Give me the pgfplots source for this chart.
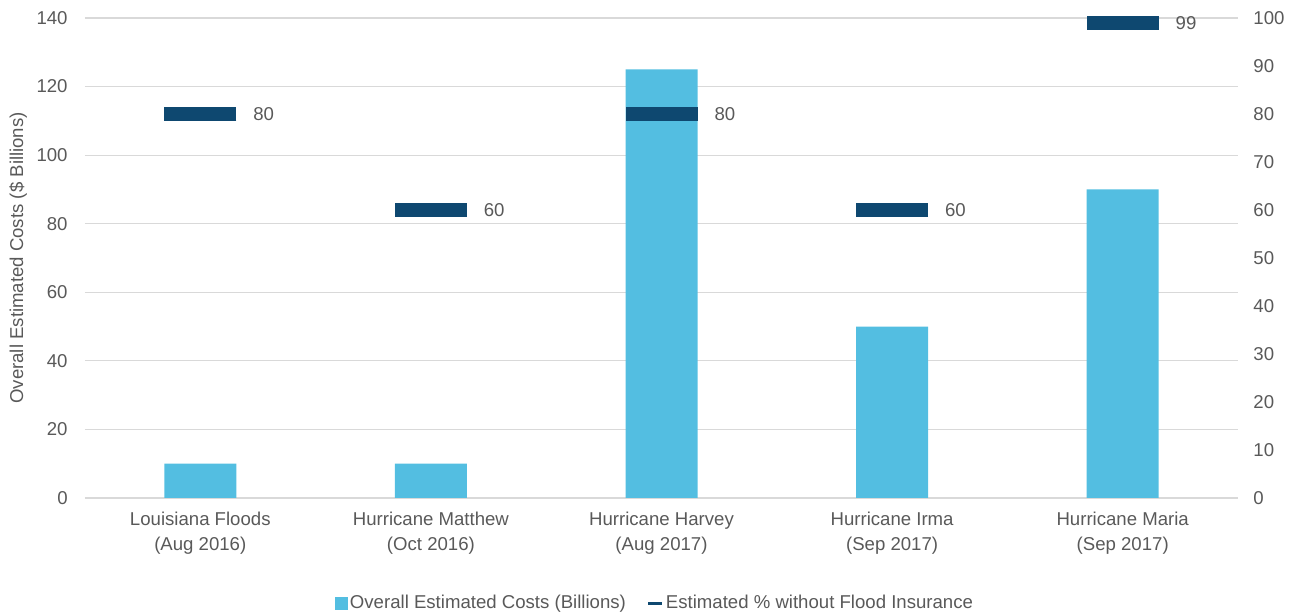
\documentclass[border=0pt]{standalone}
\usepackage{pgfplots}
\pgfplotsset{compat=1.18}
\usepackage{fontspec}
\setmainfont{Liberation Sans}
\definecolor{barc}{RGB}{83,190,225}
\definecolor{navy}{RGB}{14,72,112}
\definecolor{txt}{RGB}{89,89,89}
\definecolor{gridc}{RGB}{217,217,217}
\newcommand{\fs}{\fontsize{9.3}{12.5}\selectfont}
\begin{document}
\begin{tikzpicture}
\path[use as bounding box] (-42.5pt,-57.5pt) rectangle (604pt,249pt);
\begin{axis}[
 at={(0,0)}, anchor=south west,
 scale only axis, width=576.5pt, height=240pt,
 xmin=-0.5, xmax=4.5, ymin=0, ymax=140,
 xtick={0,1,2,3,4},
 xticklabels={{Louisiana Floods\\(Aug 2016)},{Hurricane Matthew\\(Oct 2016)},{Hurricane Harvey\\(Aug 2017)},{Hurricane Irma\\(Sep 2017)},{Hurricane Maria\\(Sep 2017)}},
 ytick={0,20,...,140},
 ymajorgrids, grid style={gridc, line width=0.6pt},
 axis line style={draw=none},
 major tick length=0pt,
 tick label style={font=\fs, text=txt},
 /pgf/number format/assume math mode=true,
 xticklabel style={align=center, anchor=north, inner sep=0pt, yshift=-7pt},
 yticklabel style={anchor=east, inner sep=0pt, xshift=-8.5pt},
 ylabel={Overall Estimated Costs (\$ Billions)},
 ylabel style={at={(axis description cs:-0.058,0.5)}, anchor=center, font=\fs, text=txt},
 clip=false,
]
\addplot[ybar, bar width=36pt, fill=barc, draw=none] coordinates {(0,10)(1,10)(2,125)(3,50)(4,90)};
\end{axis}
\begin{axis}[
 at={(0,0)}, anchor=south west,
 scale only axis, width=576.5pt, height=240pt,
 xmin=-0.5, xmax=4.5, ymin=0, ymax=100,
 axis y line*=right, axis x line=none,
 ytick={0,10,...,100},
 axis line style={draw=none},
 major tick length=0pt,
 tick label style={font=\fs, text=txt},
 /pgf/number format/assume math mode=true,
 yticklabel style={anchor=west, inner sep=0pt, xshift=7.5pt},
 legend style={at={(axis description cs:0.494,-0.219)}, anchor=center, draw=none, fill=none, legend columns=2, font=\fs, text=txt, nodes={inner sep=0.5pt}, /tikz/every odd column/.append style={column sep=0.5pt}, /tikz/every even column/.append style={column sep=10pt}},
 clip=false,
]
\addlegendimage{legend image code/.code={\fill[barc] (0pt,-3pt) rectangle (6pt,3pt);}}
\addlegendentry{Overall Estimated Costs (Billions)}
\addplot[navy, only marks, mark=-, mark size=18pt, mark options={line width=7pt},
 nodes near coords, nodes near coords style={anchor=west, inner sep=0pt, xshift=23pt, font=\fs, text=txt},
 legend image code/.code={\draw[navy, line width=1.5pt] (0pt,0pt) -- (7pt,0pt);}]
 coordinates {(0,80)(1,60)(2,80)(3,60)(4,99)};
\addlegendentry{Estimated \% without Flood Insurance}
\end{axis}
\end{tikzpicture}
\end{document}
